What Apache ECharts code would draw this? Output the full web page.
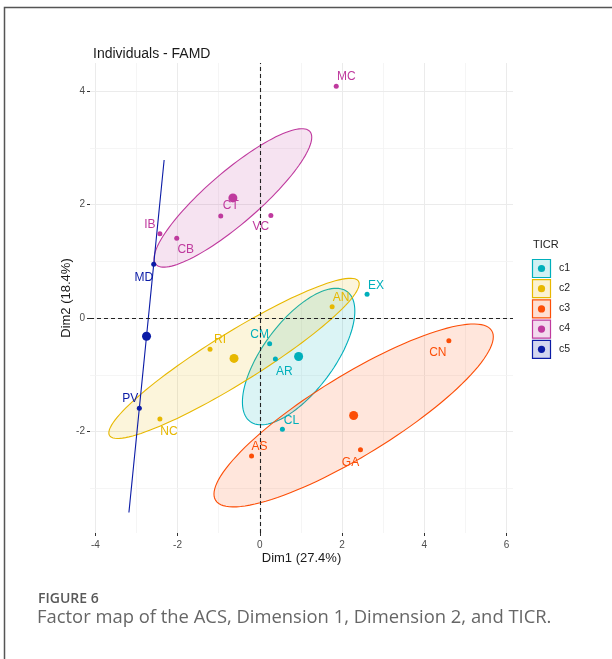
<!DOCTYPE html>
<html>
<head>
<meta charset="utf-8">
<script src="https://cdn.jsdelivr.net/npm/echarts@6/dist/echarts.min.js"></script>
<style>
  html, body { margin: 0; padding: 0; background: #ffffff; }
  #chart { width: 612px; height: 659px; }
</style>
</head>
<body>
<div id="chart"></div>
<script>
// Individuals on the first two FAMD dimensions, grouped by TICR cluster
const groups = ['c1', 'c2', 'c3', 'c4', 'c5'];
const groupColors = ['#00AFBB', '#E7B800', '#FC4E07', '#BF3A9E', '#0B1BA6'];

const names   = ['MC',  'CT',  'VC', 'IB',  'CB',  'MD',  'PV',  'AN', 'RI',  'NC',  'EX', 'CM',  'AR',  'CL',  'CN',  'GA',  'AS'];
const dim1    = [1.86, -0.95, 0.27, -2.43, -2.02, -2.58, -2.93, 1.76, -1.21, -2.43, 2.61, 0.24,  0.38,  0.55,  4.60,  2.45, -0.20];
const dim2    = [4.09,  1.80, 1.81,  1.49,  1.41,  0.95, -1.59, 0.20, -0.55, -1.78, 0.42, -0.45, -0.72, -1.96, -0.40, -2.32, -2.43];
const cluster = ['c4', 'c4', 'c4', 'c4', 'c4', 'c5', 'c5', 'c2', 'c2', 'c2', 'c1', 'c1', 'c1', 'c1', 'c3', 'c3', 'c3'];

const xTicks = [-4, -2, 0, 2, 4, 6];
const yTicks = [-2, 0, 2, 4];
const xGrid = [-4, -3, -2, -1, 0, 1, 2, 3, 4, 5, 6];
const yGrid = [-3, -2, -1, 0, 1, 2, 3, 4];

// label nudges in pixels (repelled text placement)
const labelNudge = {
  MC: [10, -10], CT: [10, -10], VC: [-10, 11], IB: [-10, -9], CB: [9, 12],
  MD: [-10, 13], PV: [-9, -10], AN: [9, -9], RI: [10, -10], NC: [9, 13],
  EX: [9, -9], CM: [-10, -9], AR: [9, 13], CL: [9, -9], CN: [-11, 12],
  GA: [-10, 13], AS: [8, -9]
};

// 95% confidence ellipse of each group mean
const chiRadius = Math.sqrt(-2 * Math.log(0.05));
function groupStats(g) {
  const xs = [], ys = [];
  cluster.forEach((c, i) => { if (c === g) { xs.push(dim1[i]); ys.push(dim2[i]); } });
  const n = xs.length;
  const mx = xs.reduce((a, b) => a + b, 0) / n;
  const my = ys.reduce((a, b) => a + b, 0) / n;
  let sxx = 0, syy = 0, sxy = 0;
  for (let i = 0; i < n; i++) {
    sxx += (xs[i] - mx) ** 2; syy += (ys[i] - my) ** 2; sxy += (xs[i] - mx) * (ys[i] - my);
  }
  sxx /= (n - 1) * n; syy /= (n - 1) * n; sxy /= (n - 1) * n;
  const a = Math.sqrt(sxx), b = sxy / a, c = Math.sqrt(Math.max(0, syy - b * b));
  const outline = [];
  for (let k = 0; k <= 120; k++) {
    const t = 2 * Math.PI * k / 120;
    const u = Math.cos(t), v = Math.sin(t);
    outline.push([mx + chiRadius * a * u, my + chiRadius * (b * u + c * v)]);
  }
  return { mean: [mx, my], outline };
}
const stats = groups.map(groupStats);

const font = '"Liberation Sans", Arial, sans-serif';

const series = [];

// ellipses, gridlines and zero reference lines
series.push({
  type: 'custom',
  coordinateSystem: 'cartesian2d',
  silent: true,
  z: 2,
  data: groups.map((g, i) => [i]),
  renderItem: function (params, api) {
    const gi = api.value(0);
    const pts = stats[gi].outline.map(p => api.coord(p));
    const col = groupColors[gi];
    return {
      type: 'polygon',
      shape: { points: pts },
      style: { fill: echarts.color.modifyAlpha(col, 0.14), stroke: col, lineWidth: 1.1 }
    };
  },
  markLine: {
    silent: true,
    symbol: 'none',
    label: { show: false },
    z: 1,
    data: [
      ...xGrid.map(v => ({ xAxis: v, lineStyle: { color: v % 2 === 0 ? '#EBEBEB' : '#F2F2F2', width: v % 2 === 0 ? 1 : 0.8, type: 'solid' } })),
      ...yGrid.map(v => ({ yAxis: v, lineStyle: { color: v % 2 === 0 ? '#EBEBEB' : '#F2F2F2', width: v % 2 === 0 ? 1 : 0.8, type: 'solid' } }))
    ]
  }
});

series.push({
  type: 'scatter',
  silent: true,
  symbolSize: 0,
  data: [],
  z: 3,
  markLine: {
    silent: true,
    symbol: 'none',
    label: { show: false },
    lineStyle: { color: '#222222', width: 1.1, type: [4, 3] },
    data: [{ xAxis: 0 }, { yAxis: 0 }]
  }
});

// individuals and group means
groups.forEach((g, gi) => {
  const pts = [];
  cluster.forEach((c, i) => {
    if (c === g) {
      pts.push({
        name: names[i],
        value: [dim1[i], dim2[i]],
        label: { offset: labelNudge[names[i]] }
      });
    }
  });
  series.push({
    type: 'scatter',
    name: g,
    data: pts,
    symbolSize: 5,
    z: 4,
    itemStyle: { color: groupColors[gi], opacity: 1 },
    label: {
      show: true,
      position: 'inside',
      formatter: '{b}',
      color: groupColors[gi],
      fontFamily: font,
      fontSize: 12
    }
  });
  series.push({
    type: 'scatter',
    name: g + ' mean',
    data: [stats[gi].mean],
    symbolSize: 9,
    z: 4,
    itemStyle: { color: groupColors[gi], opacity: 1 }
  });
});

// legend keys
const legendGraphics = [{
  type: 'text', left: 533, top: 239,
  style: { text: 'TICR', font: '11px ' + font, fill: '#222222' }
}];
groups.forEach((g, i) => {
  const y = 259 + i * 20.2;
  legendGraphics.push({
    type: 'rect', shape: { x: 532.5, y: y + 0.5, width: 18, height: 18 },
    style: { fill: echarts.color.modifyAlpha(groupColors[i], 0.18), stroke: groupColors[i], lineWidth: 1.2 }
  });
  legendGraphics.push({
    type: 'circle', shape: { cx: 541.5, cy: y + 9.5, r: 3.6 },
    style: { fill: groupColors[i] }
  });
  legendGraphics.push({
    type: 'text', left: 559, top: y + 3.5,
    style: { text: g, font: '10.5px ' + font, fill: '#222222' }
  });
});

const option = {
  animation: false,
  backgroundColor: '#ffffff',
  grid: { left: 90, top: 63, width: 423, height: 470, containLabel: false },
  title: {
    text: 'Individuals - FAMD',
    left: 88, top: 42,
    textStyle: { fontFamily: font, fontSize: 14, fontWeight: 'normal', color: '#1a1a1a' }
  },
  xAxis: {
    type: 'value', min: -4.13, max: 6.16,
    name: 'Dim1 (27.4%)', nameLocation: 'middle', nameGap: 19, nameMoveOverlap: false,
    nameTextStyle: { fontFamily: font, fontSize: 13, color: '#1a1a1a' },
    axisLine: { show: true, onZero: false, lineStyle: { color: 'rgba(0,0,0,0)' } },
    axisTick: { show: true, length: 3, customValues: xTicks, lineStyle: { color: '#333333', width: 1 } },
    axisLabel: { customValues: xTicks, margin: 7, fontFamily: font, fontSize: 10, color: '#4D4D4D' },
    splitLine: { show: false }
  },
  yAxis: {
    type: 'value', min: -3.79, max: 4.5,
    name: 'Dim2 (18.4%)', nameLocation: 'middle', nameGap: 17, nameRotate: 90, nameMoveOverlap: false,
    nameTextStyle: { fontFamily: font, fontSize: 13, color: '#1a1a1a' },
    axisLine: { show: true, onZero: false, lineStyle: { color: 'rgba(0,0,0,0)' } },
    axisTick: { show: true, length: 3, customValues: yTicks, lineStyle: { color: '#333333', width: 1 } },
    axisLabel: { customValues: yTicks, margin: 5, fontFamily: font, fontSize: 10, color: '#4D4D4D' },
    splitLine: { show: false }
  },
  series: series,
  graphic: [
    {
      type: 'polyline', silent: true,
      shape: { points: [[4.5, 659], [4.5, 7.5], [612, 7.5]] },
      style: { stroke: '#555555', lineWidth: 1.5, fill: null }
    },
    ...legendGraphics,
    {
      type: 'text', left: 38, top: 592,
      style: { text: 'FIGURE 6', font: '600 14px "Open Sans", sans-serif', fill: '#595959' }
    },
    {
      type: 'text', left: 37, top: 609,
      style: { text: 'Factor map of the ACS, Dimension 1, Dimension 2, and TICR.', font: '18.4px "Open Sans", sans-serif', fill: '#666666' }
    }
  ]
};

const chart = echarts.init(document.getElementById('chart'), null, { renderer: 'canvas' });
chart.setOption(option);
</script>
</body>
</html>
